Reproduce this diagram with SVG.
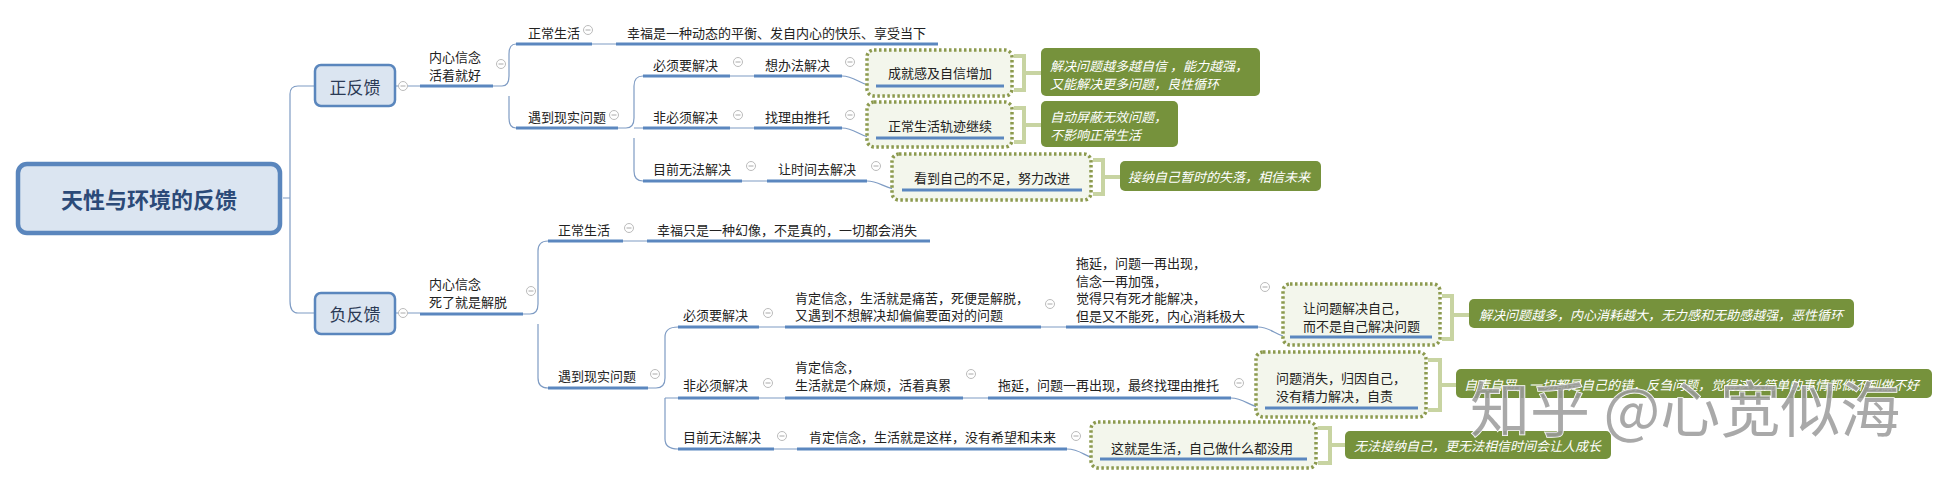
<svg xmlns="http://www.w3.org/2000/svg" width="1948" height="486" viewBox="0 0 1948 486">
<style>
text{font-family:"Noto Sans CJK SC","Noto Sans",sans-serif;font-size:13px;fill:#222}
.t{dominant-baseline:central}
.ul{stroke:#5b87bf;stroke-width:3;fill:none}
.cn{stroke:#7f9cc4;stroke-width:1.2;fill:none}
.ci{fill:#fff;stroke:#bbb;stroke-width:1}
.cm{stroke:#aaa;stroke-width:1}
.dot{fill:#f3f6ec;stroke:#8c9a4e;stroke-width:3.5;stroke-dasharray:2.5 2.5}
.br{stroke:#c8d4a2;stroke-width:4;fill:none}
.gb{fill:#76923c}
.g{fill:#fff;font-style:italic}
.box{fill:#dbe5f1;stroke:#5a86bd;stroke-width:2.5}
</style>
<defs>
<g id="c"><circle class="ci" r="4.5"/><line class="cm" x1="-2.5" x2="2.5" y1="0" y2="0"/></g>
</defs>
<rect width="1948" height="486" fill="#fff"/>
<g id="connectors">
<path class="cn" d="M283,198 H290 M290,94 Q290,86 298,86 H315 M290,94 V301 Q290,313 298,313 H315"/>
<path class="cn" d="M395,86 H420 M395,313 H420"/>
<path class="cn" d="M493,86 H502 Q509,86 509,76 V54 Q509,44 516,44 M509,96 V118 Q509,128 516,128"/>
<path class="cn" d="M592,44 H616 M618,128 H626 Q634,128 634,118 V86 Q634,76 643,76 M634,128 H643 M634,138 V171 Q634,181 643,181"/>
<path class="cn" d="M730,76 H754 M730,128 H754 M742,181 H767"/>
<path class="cn" d="M842,76 C856,76 860,86 876,86 M842,128 C856,128 860,138 876,138 M867,181 C880,181 886,190 902,190"/>
<path class="cn" d="M523,314 H530 Q538,314 538,304 V251 Q538,241 548,241 M538,324 V378 Q538,388 548,388"/>
<path class="cn" d="M623,241 H647 M648,388 H656 Q665,388 665,378 V337 Q665,327 678,327 M665,398 H678 M665,398 V439 Q665,449 678,449"/>
<path class="cn" d="M759,327 H785 M1041,327 H1066 M1258,327 C1272,327 1276,337 1290,337"/>
<path class="cn" d="M759,398 H785 M963,398 H988 M1231,398 C1245,398 1250,408 1265,408"/>
<path class="cn" d="M774,449 H797 M1067,449 C1082,449 1086,459 1100,459"/>
</g>
<g id="root"><rect x="18" y="164" width="262" height="69" rx="9" fill="#dbe5f1" stroke="#5a86bd" stroke-width="4.5"/><text class="t" x="149" y="198" text-anchor="middle" style="font-size:22px;font-weight:bold;fill:#2b4a78">天性与环境的反馈</text></g>
<g id="pos"><rect class="box" x="315" y="65" width="80" height="41" rx="6"/><text class="t" x="355" y="86" text-anchor="middle" style="font-size:17px;fill:#2b3a55">正反馈</text><use href="#c" x="403" y="86"/></g>
<g id="neg"><rect class="box" x="315" y="293" width="80" height="41" rx="6"/><text class="t" x="355" y="313" text-anchor="middle" style="font-size:17px;fill:#2b3a55">负反馈</text><use href="#c" x="403" y="313"/></g>
<g id="p1"><text class="t" x="429" y="56">内心信念</text><text class="t" x="429" y="74">活着就好</text><path class="ul" d="M420,86 H493"/><use href="#c" x="501" y="64"/></g>
<g id="p2"><text class="t" x="528" y="32">正常生活</text><path class="ul" d="M516,44 H592"/><use href="#c" x="588" y="30"/></g>
<g id="p3"><text class="t" x="627" y="32">幸福是一种动态的平衡、发自内心的快乐、享受当下</text><path class="ul" d="M616,44 H938"/></g>
<g id="p4"><text class="t" x="528" y="116">遇到现实问题</text><path class="ul" d="M516,128 H618"/><use href="#c" x="614" y="115"/></g>
<g id="p5"><text class="t" x="653" y="64">必须要解决</text><path class="ul" d="M643,76 H730"/><use href="#c" x="738" y="62"/></g>
<g id="p6"><text class="t" x="765" y="64">想办法解决</text><path class="ul" d="M754,76 H842"/><use href="#c" x="850" y="62"/></g>
<g id="p7"><rect class="dot" x="867" y="50" width="145" height="46" rx="7"/><text class="t" x="940" y="72" text-anchor="middle">成就感及自信增加</text><path class="ul" d="M876,86 H1004"/></g>
<g id="p8"><path class="br" d="M1014,56 H1024 V90 H1014 M1024,73 H1041"/><rect class="gb" x="1041" y="48" width="219" height="48" rx="5"/><text class="t g" x="1050" y="65">解决问题越多越自信 ，能力越强，</text><text class="t g" x="1050" y="83">又能解决更多问题，良性循环</text></g>
<g id="p9"><text class="t" x="653" y="116">非必须解决</text><path class="ul" d="M643,128 H730"/><use href="#c" x="738" y="115"/></g>
<g id="p10"><text class="t" x="765" y="116">找理由推托</text><path class="ul" d="M754,128 H842"/><use href="#c" x="850" y="115"/></g>
<g id="p11"><rect class="dot" x="867" y="102" width="145" height="45" rx="7"/><text class="t" x="940" y="125" text-anchor="middle">正常生活轨迹继续</text><path class="ul" d="M876,138 H1004"/></g>
<g id="p12"><path class="br" d="M1014,108 H1024 V142 H1014 M1024,125 H1041"/><rect class="gb" x="1041" y="101" width="137" height="46" rx="5"/><text class="t g" x="1050" y="116">自动屏蔽无效问题，</text><text class="t g" x="1050" y="134">不影响正常生活</text></g>
<g id="p13"><text class="t" x="653" y="168">目前无法解决</text><path class="ul" d="M643,181 H742"/><use href="#c" x="751" y="166"/></g>
<g id="p14"><text class="t" x="778" y="168">让时间去解决</text><path class="ul" d="M767,181 H867"/><use href="#c" x="876" y="166"/></g>
<g id="p15"><rect class="dot" x="892" y="154" width="199" height="46" rx="7"/><text class="t" x="992" y="177" text-anchor="middle">看到自己的不足，努力改进</text><path class="ul" d="M902,190 H1082"/></g>
<g id="p16"><path class="br" d="M1093,160 H1103 V194 H1093 M1103,177 H1120"/><rect class="gb" x="1120" y="161" width="201" height="30" rx="5"/><text class="t g" x="1128" y="176">接纳自己暂时的失落，相信未来</text></g>
<g id="n1"><text class="t" x="429" y="283">内心信念</text><text class="t" x="429" y="301">死了就是解脱</text><path class="ul" d="M420,314 H523"/><use href="#c" x="531" y="291"/></g>
<g id="n2"><text class="t" x="558" y="229">正常生活</text><path class="ul" d="M548,241 H623"/><use href="#c" x="629" y="228"/></g>
<g id="n3"><text class="t" x="657" y="229">幸福只是一种幻像，不是真的，一切都会消失</text><path class="ul" d="M647,241 H930"/></g>
<g id="n4"><text class="t" x="558" y="375">遇到现实问题</text><path class="ul" d="M548,388 H648"/><use href="#c" x="655" y="374"/></g>
<g id="n5"><text class="t" x="683" y="314">必须要解决</text><path class="ul" d="M678,327 H759"/><use href="#c" x="768" y="313"/></g>
<g id="n6"><text class="t" x="795" y="297">肯定信念，生活就是痛苦，死便是解脱，</text><text class="t" x="795" y="314">又遇到不想解决却偏偏要面对的问题</text><path class="ul" d="M785,327 H1041"/><use href="#c" x="1050" y="304"/></g>
<g id="n7"><text class="t" x="1076" y="262">拖延，问题一再出现，</text><text class="t" x="1076" y="280">信念一再加强，</text><text class="t" x="1076" y="297">觉得只有死才能解决，</text><text class="t" x="1076" y="315">但是又不能死，内心消耗极大</text><path class="ul" d="M1066,327 H1258"/><use href="#c" x="1265" y="287"/></g>
<g id="n8"><rect class="dot" x="1283" y="284" width="157" height="61" rx="7"/><text class="t" x="1303" y="307">让问题解决自己，</text><text class="t" x="1303" y="325">而不是自己解决问题</text><path class="ul" d="M1290,337 H1432"/></g>
<g id="n9"><path class="br" d="M1442,296 H1452 V339 H1442 M1452,315 H1469"/><rect class="gb" x="1469" y="299" width="385" height="29" rx="5"/><text class="t g" x="1479" y="314">解决问题越多，内心消耗越大，无力感和无助感越强，恶性循环</text></g>
<g id="n10"><text class="t" x="683" y="384">非必须解决</text><path class="ul" d="M678,398 H759"/><use href="#c" x="768" y="383"/></g>
<g id="n11"><text class="t" x="795" y="366">肯定信念，</text><text class="t" x="795" y="384">生活就是个麻烦，活着真累</text><path class="ul" d="M785,398 H963"/><use href="#c" x="971" y="374"/></g>
<g id="n12"><text class="t" x="998" y="384">拖延，问题一再出现，最终找理由推托</text><path class="ul" d="M988,398 H1231"/><use href="#c" x="1239" y="383"/></g>
<g id="n13"><rect class="dot" x="1256" y="352" width="170" height="65" rx="7"/><text class="t" x="1276" y="377">问题消失，归因自己，</text><text class="t" x="1276" y="395">没有精力解决，自责</text><path class="ul" d="M1265,408 H1418"/></g>
<g id="n14"><path class="br" d="M1428,360 H1440 V410 H1428 M1440,385 H1456"/><rect class="gb" x="1456" y="369" width="476" height="29" rx="5"/><text class="t g" x="1464" y="384">自责自罚，一切都是自己的错，反刍问题，觉得这么简单的事情都做不到做不好</text></g>
<g id="n15"><text class="t" x="683" y="436">目前无法解决</text><path class="ul" d="M678,449 H774"/><use href="#c" x="782" y="436"/></g>
<g id="n16"><text class="t" x="809" y="436">肯定信念，生活就是这样，没有希望和未来</text><path class="ul" d="M797,449 H1067"/><use href="#c" x="1076" y="436"/></g>
<g id="n17"><rect class="dot" x="1091" y="422" width="225" height="46" rx="7"/><text class="t" x="1111" y="447">这就是生活，自己做什么都没用</text><path class="ul" d="M1100,459 H1307"/></g>
<g id="n18"><path class="br" d="M1318,428 H1330 V463 H1318 M1330,445 H1345"/><rect class="gb" x="1345" y="431" width="266" height="28" rx="5"/><text class="t g" x="1354" y="445">无法接纳自己，更无法相信时间会让人成长</text></g>
<text x="1470" y="432" style="font-size:60px;fill:#9a9a9a;fill-opacity:0.85;stroke:#fff;stroke-width:1.5;paint-order:stroke">知乎 @心宽似海</text>
</svg>
